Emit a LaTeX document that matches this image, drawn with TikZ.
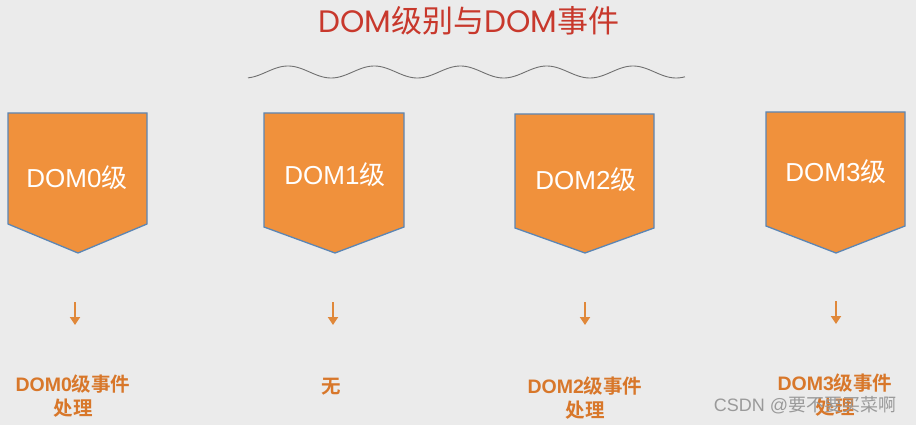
\documentclass[tikz,border=0pt]{standalone}
\usepackage{fontspec}
\setmainfont{Liberation Sans}
\newfontfamily\cjk{Noto Sans CJK SC}[BoldFont={Noto Sans CJK SC Bold}]
\newfontfamily\titlefont{Poppins}
\usetikzlibrary{arrows.meta}
\definecolor{bg}{HTML}{EBEBEB}
\definecolor{boxfill}{HTML}{F0913C}
\definecolor{boxline}{HTML}{5B86B5}
\definecolor{titlered}{HTML}{C8382C}
\definecolor{lbl}{HTML}{D8772A}
\definecolor{arr}{HTML}{E0883A}
\definecolor{wave}{HTML}{707070}
\definecolor{wm}{HTML}{9A9A9A}
\tikzset{
  shield/.style={fill=boxfill, draw=boxline, line width=1.3pt, line join=miter},
  boxtext/.style={text=white, font=\fontsize{26}{30}\selectfont, inner sep=0pt},
  lbltext/.style={text=lbl, font=\bfseries\fontsize{19.5}{24}\selectfont, align=center, inner sep=0pt},
  downarrow/.style={draw=arr, line width=2pt, -{Triangle[length=8pt 0,width=10pt 0]}},
}
\begin{document}
\begin{tikzpicture}[x=1pt,y=-1pt]
\fill[bg] (0,0) rectangle (916,425);
\useasboundingbox (0,0) rectangle (916,425);

% title and wave
\node[text=titlered, font=\titlefont\fontsize{31}{36}\selectfont, inner sep=0pt] (title) at (469,21) {DOM{\cjk 级别与}DOM{\cjk 事件}};
\draw[wave, line width=0.9pt] plot[domain=248:685, samples=220, smooth] (\x, {72-6*cos(4.174*(\x-288))});

% shields
\draw[shield] (8,113) -- (147,113) -- (147,224) -- (78,253) -- (8,224) -- cycle;
\draw[shield] (264,113) -- (404,113) -- (404,227) -- (335,253) -- (264,227) -- cycle;
\draw[shield] (515,114) -- (654,114) -- (654,228) -- (585,253) -- (515,228) -- cycle;
\draw[shield] (766,112) -- (905,112) -- (905,226) -- (836,253) -- (766,226) -- cycle;

\node[boxtext] (b0) at (77,178) {DOM0{\cjk 级}};
\node[boxtext] (b1) at (335,175) {DOM1{\cjk 级}};
\node[boxtext] (b2) at (586,180) {DOM2{\cjk 级}};
\node[boxtext] (b3) at (836,172) {DOM3{\cjk 级}};

% arrows
\coordinate (a0s) at (75,302); \coordinate (a0e) at (75,325);
\coordinate (a1s) at (333,302); \coordinate (a1e) at (333,325);
\coordinate (a2s) at (585,302); \coordinate (a2e) at (585,325);
\coordinate (a3s) at (836,301); \coordinate (a3e) at (836,324);
\draw[downarrow] (a0s) -- (a0e);
\draw[downarrow] (a1s) -- (a1e);
\draw[downarrow] (a2s) -- (a2e);
\draw[downarrow] (a3s) -- (a3e);

% labels
\node[lbltext] (l0) at (73,396) {DOM0{\cjk 级事件}\\{\cjk 处理}};
\node[lbltext] (l1) at (331,387) {{\cjk 无}};
\node[lbltext] (l2) at (585,398) {DOM2{\cjk 级事件}\\{\cjk 处理}};
\node[lbltext] (l3) at (835,395) {DOM3{\cjk 级事件}\\{\cjk 处理}};

% watermark (overlaps the last label, as in the reference)
\node[text=wm, font=\fontsize{18}{22}\selectfont, inner sep=0pt] (wmark) at (805,405) {CSDN @{\cjk 要不要买菜啊}};
\end{tikzpicture}
\end{document}
